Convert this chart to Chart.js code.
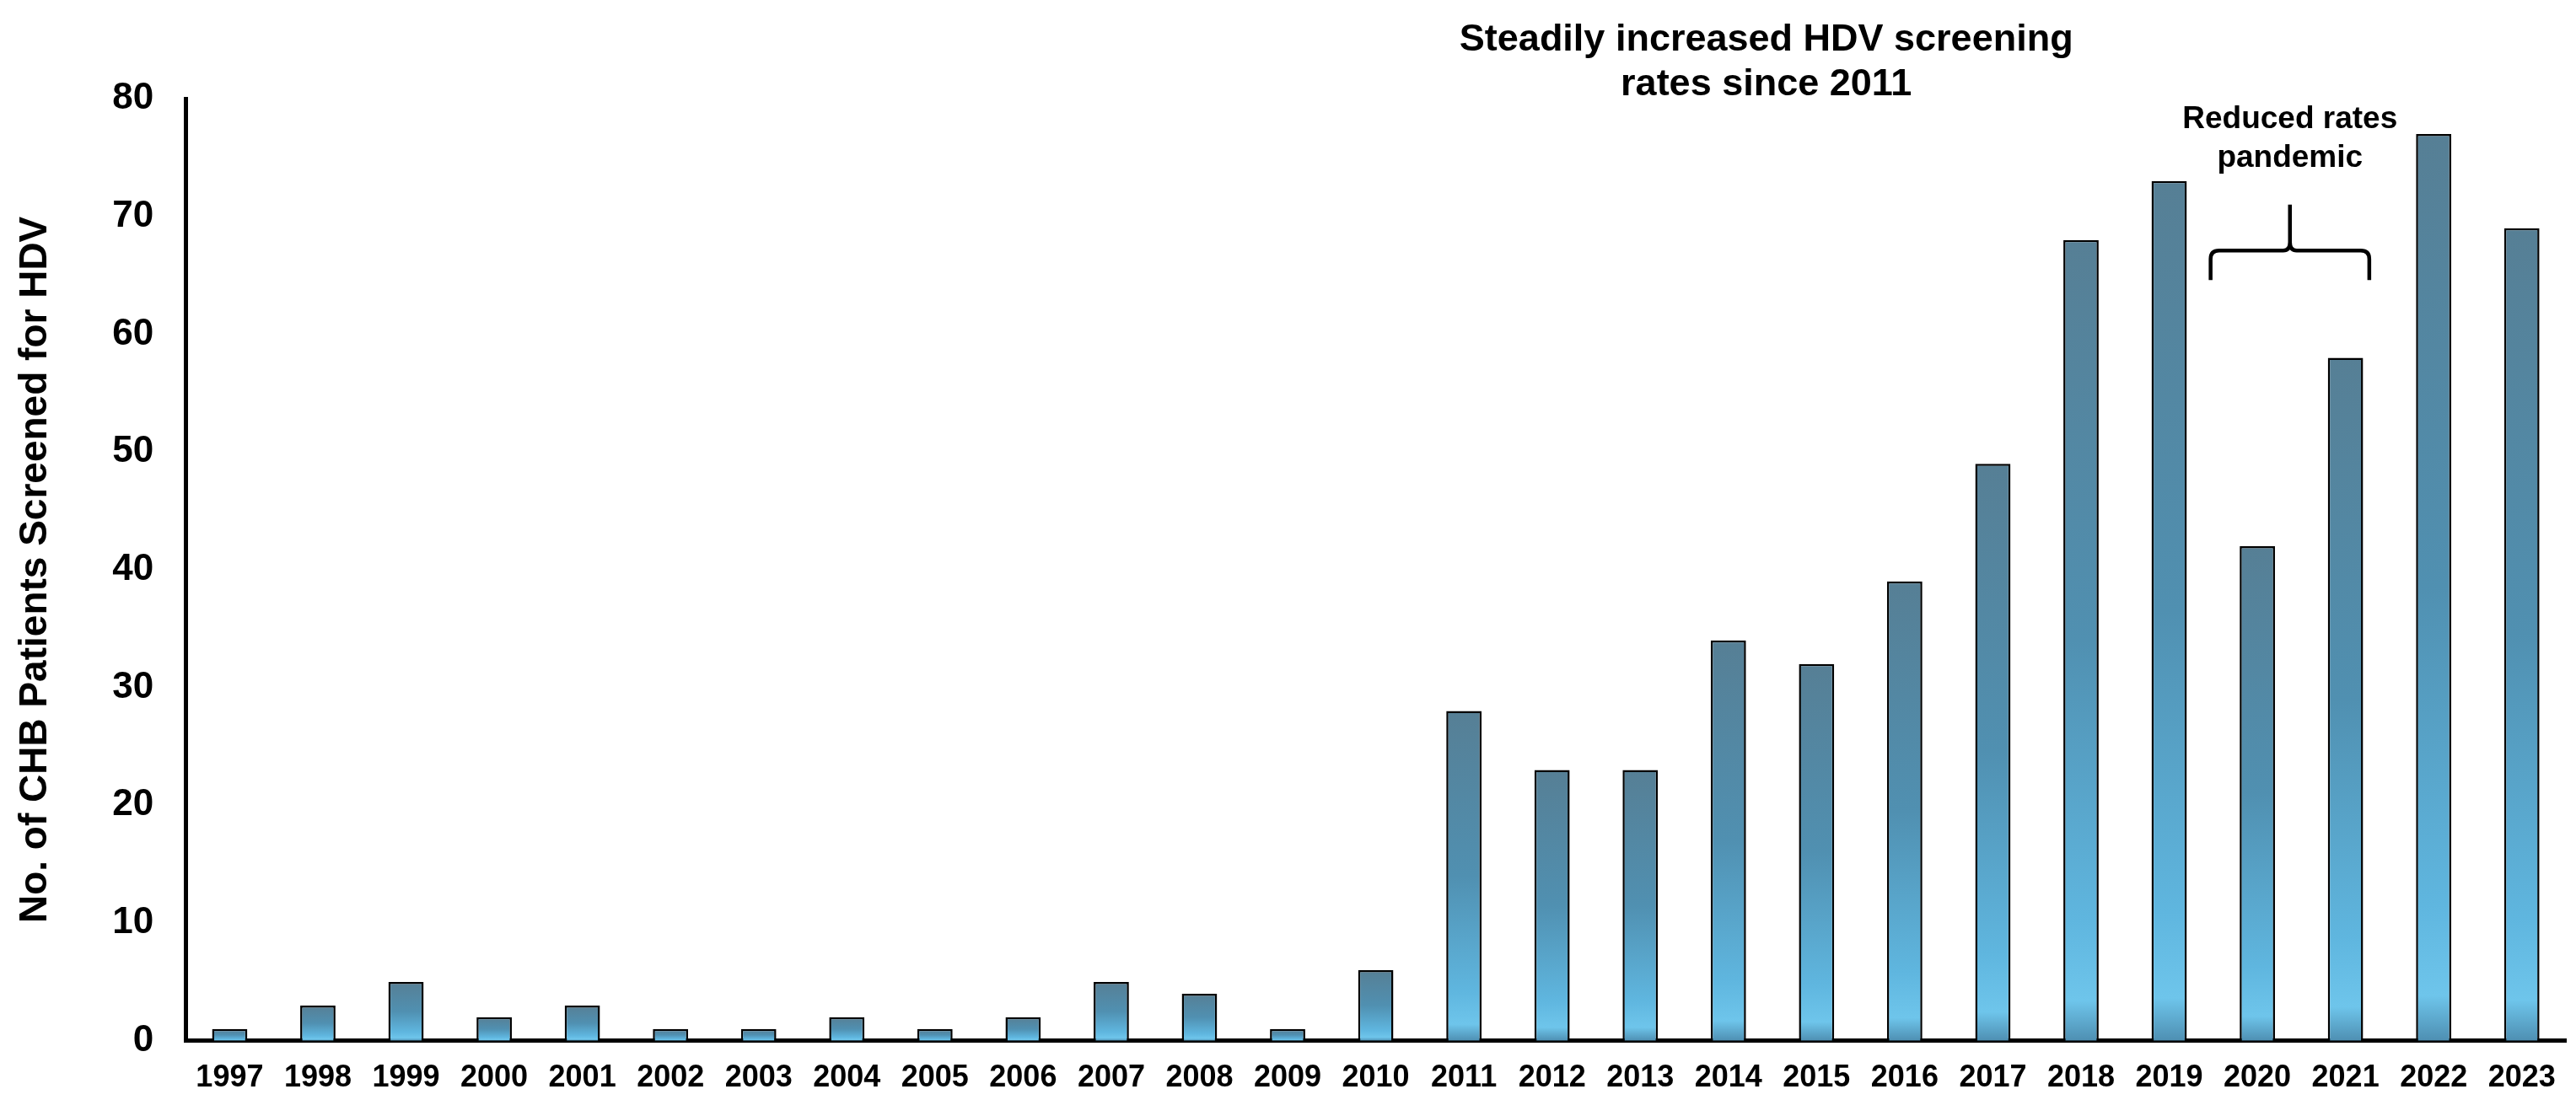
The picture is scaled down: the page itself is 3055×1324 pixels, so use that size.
<!DOCTYPE html>
<html>
<head>
<meta charset="utf-8">
<script src="https://cdn.jsdelivr.net/npm/chart.js@4.4.1/dist/chart.umd.min.js"></script>
<style>
  html, body { margin: 0; padding: 0; background: #fff; }
  canvas { display: block; }
</style>
</head>
<body>
<canvas id="myChart" width="3055" height="1324"></canvas>
<script>
var years = ['1997', '1998', '1999', '2000', '2001', '2002', '2003', '2004', '2005', '2006', '2007', '2008', '2009', '2010',
    '2011', '2012', '2013', '2014', '2015', '2016', '2017', '2018', '2019', '2020', '2021', '2022', '2023'];
var screened = [1, 3, 5, 2, 3, 1, 1, 2, 1, 2, 5, 4, 1, 6,
    28, 23, 23, 34, 32, 39, 49, 68, 73, 42, 58, 77, 69];
var yTicks = [0, 10, 20, 30, 40, 50, 60, 70, 80];
var yTitle = 'No. of CHB Patients Screened for HDV';
var topNote = ['Steadily increased HDV screening', 'rates since 2011'];
var pandemicNote = ['Reduced rates', 'pandemic'];

Chart.defaults.font.family = '"Liberation Sans", Arial, sans-serif';
Chart.defaults.color = '#000';

// each bar gets its own top-to-bottom shading
function barFill(context) {
    var chart = context.chart;
    var y = chart.scales.y;
    if (!y || context.type !== 'data') return '#5288a6';
    var top = y.getPixelForValue(context.raw);
    var base = y.getPixelForValue(0);
    if (!isFinite(top) || !isFinite(base) || base - top < 1) return '#5288a6';
    var g = chart.ctx.createLinearGradient(0, top, 0, base);
    g.addColorStop(0, '#567f95');
    g.addColorStop(0.5, '#5090b1');
    g.addColorStop(0.85, '#5fb6df');
    g.addColorStop(0.95, '#6ec5eb');
    g.addColorStop(1, '#4e8fb2');
    return g;
}

var notesPlugin = {
    id: 'notes',
    afterDraw: function (chart) {
        var c = chart.ctx;
        var x = chart.scales.x;
        var y = chart.scales.y;
        c.save();
        c.fillStyle = '#000';
        c.textAlign = 'center';
        c.textBaseline = 'alphabetic';

        c.font = 'bold 45px "Liberation Sans", Arial, sans-serif';
        var tx = x.getPixelForValue(17.43);
        c.fillText(topNote[0], tx, y.getPixelForValue(84.1));
        c.fillText(topNote[1], tx, y.getPixelForValue(80.3));

        c.font = 'bold 37px "Liberation Sans", Arial, sans-serif';
        var px = x.getPixelForValue(23.37);
        c.fillText(pandemicNote[0], px, y.getPixelForValue(77.5));
        c.fillText(pandemicNote[1], px, y.getPixelForValue(74.2));

        // curly brace over 2020-2021
        var bl = x.getPixelForValue(22.47);
        var br = x.getPixelForValue(24.27);
        var bm = px;
        var yh = y.getPixelForValue(67.1);
        var yb = y.getPixelForValue(64.6);
        var yt = y.getPixelForValue(71);
        var r = 10;
        c.strokeStyle = '#000';
        c.lineWidth = 4.5;
        c.lineCap = 'butt';
        c.beginPath();
        c.moveTo(bl, yb);
        c.lineTo(bl, yh + r);
        c.quadraticCurveTo(bl, yh, bl + r, yh);
        c.lineTo(bm - 8, yh);
        c.quadraticCurveTo(bm, yh, bm, yh - 10);
        c.lineTo(bm, yt);
        c.moveTo(bm, yh - 10);
        c.quadraticCurveTo(bm, yh, bm + 8, yh);
        c.lineTo(br - r, yh);
        c.quadraticCurveTo(br, yh, br, yh + r);
        c.lineTo(br, yb);
        c.stroke();
        c.restore();
    }
};

var ctx = document.getElementById('myChart').getContext('2d');
var chart = new Chart(ctx, {
    type: 'bar',
    data: {
        labels: years,
        datasets: [{
            label: 'Screened',
            data: screened,
            backgroundColor: barFill,
            borderColor: '#000',
            borderWidth: 2.5,
            categoryPercentage: 1,
            barPercentage: 0.4
        }]
    },
    options: {
        responsive: false,
        devicePixelRatio: 1,
        animation: false,
        layout: { padding: { top: 117, right: 12, bottom: 0, left: 15 } },
        plugins: {
            legend: { display: false },
            tooltip: { enabled: false }
        },
        scales: {
            x: {
                grid: { display: false, drawTicks: false },
                border: { display: true, color: '#000', width: 5 },
                ticks: {
                    padding: 23,
                    maxRotation: 0,
                    autoSkip: false,
                    color: '#000',
                    font: { size: 36, weight: 'bold' }
                }
            },
            y: {
                min: 0,
                max: 80,
                afterBuildTicks: function (axis) {
                    axis.ticks = yTicks.map(function (v) { return { value: v }; });
                },
                grid: { display: false, drawTicks: false },
                border: { display: true, color: '#000', width: 5 },
                ticks: {
                    padding: 38,
                    color: '#000',
                    font: { size: 44, weight: 'bold' }
                },
                title: {
                    display: true,
                    text: yTitle,
                    color: '#000',
                    font: { size: 46, weight: 'bold' },
                    padding: { top: 0, bottom: 25 }
                }
            }
        }
    },
    plugins: [notesPlugin]
});
</script>
</body>
</html>
